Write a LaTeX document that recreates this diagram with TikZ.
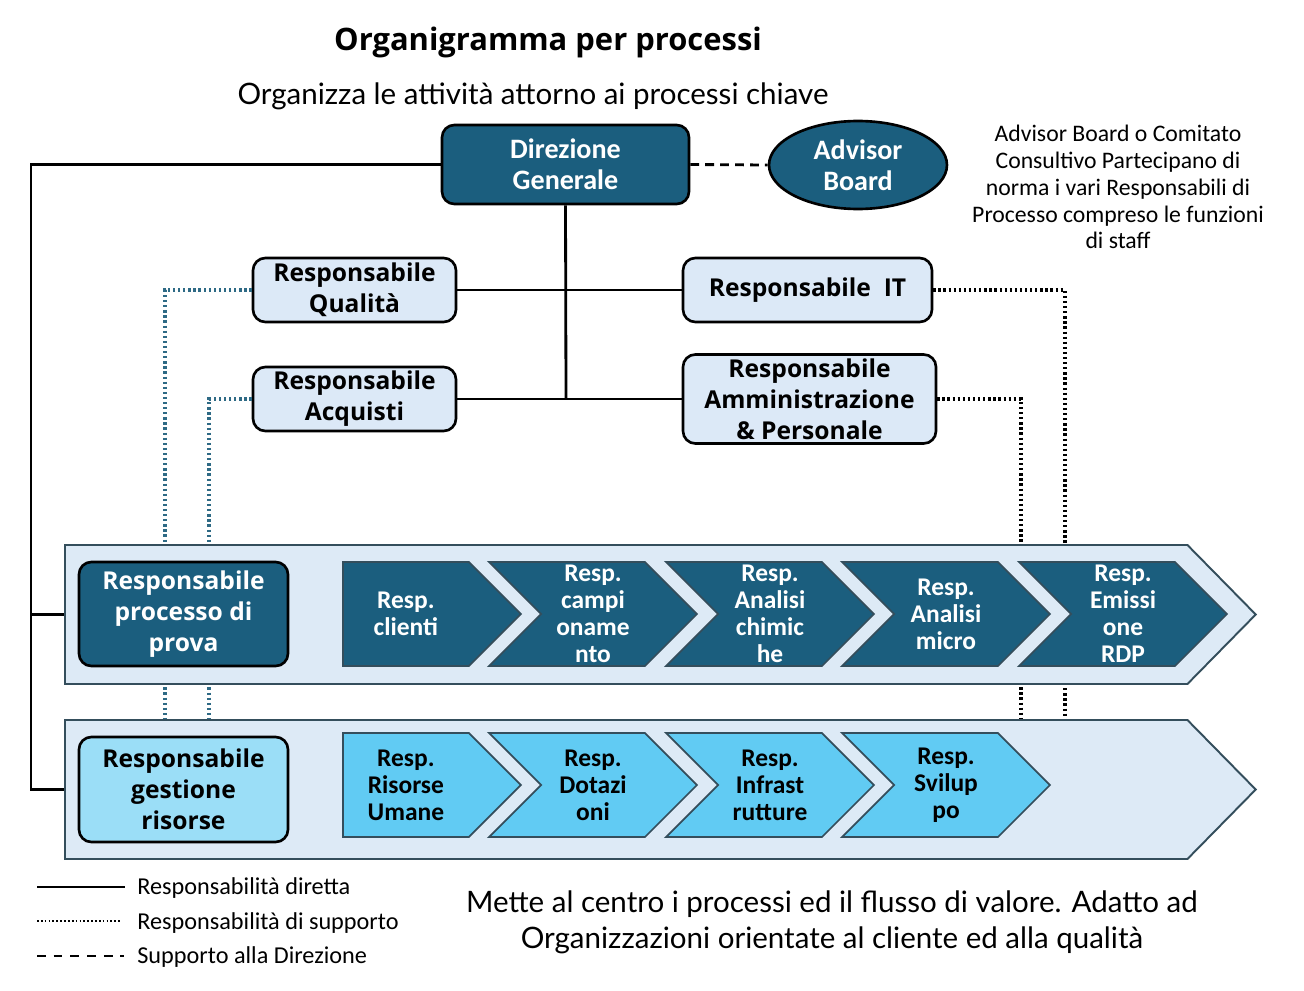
\documentclass[tikz,border=0pt]{standalone}
\usepackage{fontspec}
\setmainfont{Lato}
\newfontfamily\narrowfont{Carlito}
\newfontfamily\heavyfont{Open Sans}
\usetikzlibrary{shapes.geometric,shapes.symbols,positioning}

\definecolor{tealdark}{RGB}{27,94,126}
\definecolor{tealdot}{RGB}{46,106,133}
\definecolor{bandfill}{RGB}{221,234,246}
\definecolor{boxfill}{RGB}{220,233,247}
\definecolor{chevcyan}{RGB}{97,203,243}
\definecolor{cyanbox}{RGB}{155,222,247}
\definecolor{bandline}{RGB}{52,78,92}

\tikzset{
  direct/.style={draw=black, line width=1.6pt},
  support/.style={line width=1.8pt, dash pattern=on 1.3pt off 1.6pt},
  toboard/.style={draw=black, line width=1.6pt, dash pattern=on 5pt off 3.5pt},
  darkbox/.style={rectangle, rounded corners=7pt, draw=black, line width=1.5pt,
    fill=tealdark, text=white, font=\heavyfont\bfseries\fontsize{14}{17.6}\selectfont},
  lightbox/.style={rectangle, rounded corners=7pt, draw=black, line width=1.5pt,
    fill=boxfill, text=black, font=\heavyfont\bfseries\fontsize{14}{17.6}\selectfont},
  narrowbold/.style={font=\narrowfont\bfseries\fontsize{16}{17.6}\selectfont},
  band/.style={signal, signal to=east, signal pointer angle=91, draw=bandline,
    line width=1.1pt, fill=bandfill, minimum width=23.82cm, minimum height=2.78cm,
    anchor=west},
  chev/.style={signal, signal to=east, signal from=west, signal pointer angle=90,
    draw=bandline, line width=1pt, minimum width=4.16cm, minimum height=2.08cm,
    font=\narrowfont\bfseries\fontsize{14.5}{15.3}\selectfont},
  firstchev/.style={chev, signal from=nowhere, minimum width=3.56cm, anchor=west},
  darkchev/.style={fill=tealdark, text=white},
  lightchev/.style={fill=chevcyan, text=black},
}

\begin{document}
\begin{tikzpicture}[x=0.02cm, y=-0.02cm,
    every node/.style={align=center, inner sep=0pt}]

    \useasboundingbox (0,0) rectangle (1304,990);

    % titles
    \node (title) at (548,42) {\heavyfont\bfseries\fontsize{17.6}{20}\selectfont Organigramma per processi};
    \node (subtitle) at (533,96) {\fontsize{16.8}{19}\selectfont Organizza le attività attorno ai processi chiave};

    % top of the chart
    \node[darkbox, narrowbold, minimum width=4.94cm, minimum height=1.58cm] (dg) at (565.5,164.5) {Direzione\\Generale};
    \node[ellipse, draw=black, line width=1.5pt, fill=tealdark, text=white,
          minimum width=3.56cm, minimum height=1.76cm, narrowbold] (board) at (858,165) {Advisor\\Board};
    \node[font=\narrowfont\fontsize{13.5}{15.3}\selectfont] (note) at (1118,187)
      {Advisor Board o Comitato\\Consultivo Partecipano di\\norma i vari Responsabili di\\Processo compreso le funzioni\\di staff};

    \node[lightbox, minimum width=4.06cm, minimum height=1.28cm] (qual) at (354.5,290) {Responsabile\\Qualità};
    \node[lightbox, minimum width=4.98cm, minimum height=1.28cm] (it) at (807.5,290) {Responsabile\ \ IT};
    \node[lightbox, minimum width=4.06cm, minimum height=1.28cm] (acq) at (354.5,399) {Responsabile\\Acquisti};
    \node[lightbox, minimum width=5.06cm, minimum height=1.78cm] (amm) at (809.5,399) {Responsabile\\Amministrazione\\\& Personale};

    \draw[toboard] (dg.east) -- (board.west);
    \coordinate (hub) at (566,399);
    \draw[direct] (dg.south) -- (hub);
    \draw[direct] (qual.east) -- (it.west);
    \draw[direct] (acq.east) -- (amm.west);

    % support lines, behind the bands
    \coordinate (fq) at (165,720);
    \coordinate (fa) at (209,720);
    \coordinate (fi) at (1065,720);
    \coordinate (fm) at (1021,720);
    \draw[support, draw=tealdot] (qual.west) -| (fq);
    \draw[support, draw=tealdot] (acq.west) -| (fa);
    \draw[support, draw=black] (it.east) -| (fi);
    \draw[support, draw=black] (amm.east) -| (fm);

    % process band
    \node[band] (band1) at (64,614.5) {};
    \node[darkbox, minimum width=4.18cm, minimum height=2.08cm] (prova) at (183.5,614) {Responsabile\\processo di\\prova};
    \node[firstchev, darkchev] (c1) at (342,614) {Resp.\\clienti};
    \node[chev, darkchev] (c2) at (593,614) {Resp.\\campi\\oname\\nto};
    \node[chev, darkchev] (c3) at (770,614) {Resp.\\Analisi\\chimic\\he};
    \node[chev, darkchev] (c4) at (946,614) {Resp.\\Analisi\\micro};
    \node[chev, darkchev] (c5) at (1123,614) {Resp.\\Emissi\\one\\RDP};

    % resources band
    \node[band] (band2) at (64,789.5) {};
    \node[lightbox, fill=cyanbox, minimum width=4.18cm, minimum height=2.1cm] (risorse) at (183.5,789.5) {Responsabile\\gestione\\risorse};
    \node[firstchev, lightchev] (r1) at (342,785) {Resp.\\Risorse\\Umane};
    \node[chev, lightchev] (r2) at (593,785) {Resp.\\Dotazi\\oni};
    \node[chev, lightchev] (r3) at (770,785) {Resp.\\Infrast\\rutture};
    \node[chev, lightchev] (r4) at (946,785) {Resp.\\Svilup\\po};

    % direct line to the bands
    \coordinate (corner) at (31,164.5);
    \coordinate (spine) at (31,614.5);
    \draw[direct] (dg.west) -- (corner) |- (band2.west);
    \draw[direct] (spine) -- (band1.west);

    % legend
    \coordinate (l1a) at (37,887);  \coordinate (l1b) at (125,887);
    \coordinate (l2a) at (37,921);  \coordinate (l2b) at (122,921);
    \coordinate (l3a) at (37,956);  \coordinate (l3b) at (124,956);
    \draw[direct] (l1a) -- (l1b);
    \draw[draw=black, line width=1.3pt, dash pattern=on 1pt off 1.2pt] (l2a) -- (l2b);
    \draw[draw=black, line width=1.5pt, dash pattern=on 5pt off 4.5pt] (l3a) -- (l3b);
    \node[anchor=west, font=\narrowfont\fontsize{13.8}{15}\selectfont] (leg1) at (137,888) {Responsabilità diretta};
    \node[anchor=west, font=\narrowfont\fontsize{13.8}{15}\selectfont] (leg2) at (137,923) {Responsabilità di supporto};
    \node[anchor=west, font=\narrowfont\fontsize{13.8}{15}\selectfont] (leg3) at (137,957) {Supporto alla Direzione};

    \node[font=\fontsize{16.8}{20.4}\selectfont] (footer) at (832,922)
      {Mette al centro i processi ed il flusso di valore. Adatto ad\\Organizzazioni orientate al cliente ed alla qualità};
\end{tikzpicture}
\end{document}
